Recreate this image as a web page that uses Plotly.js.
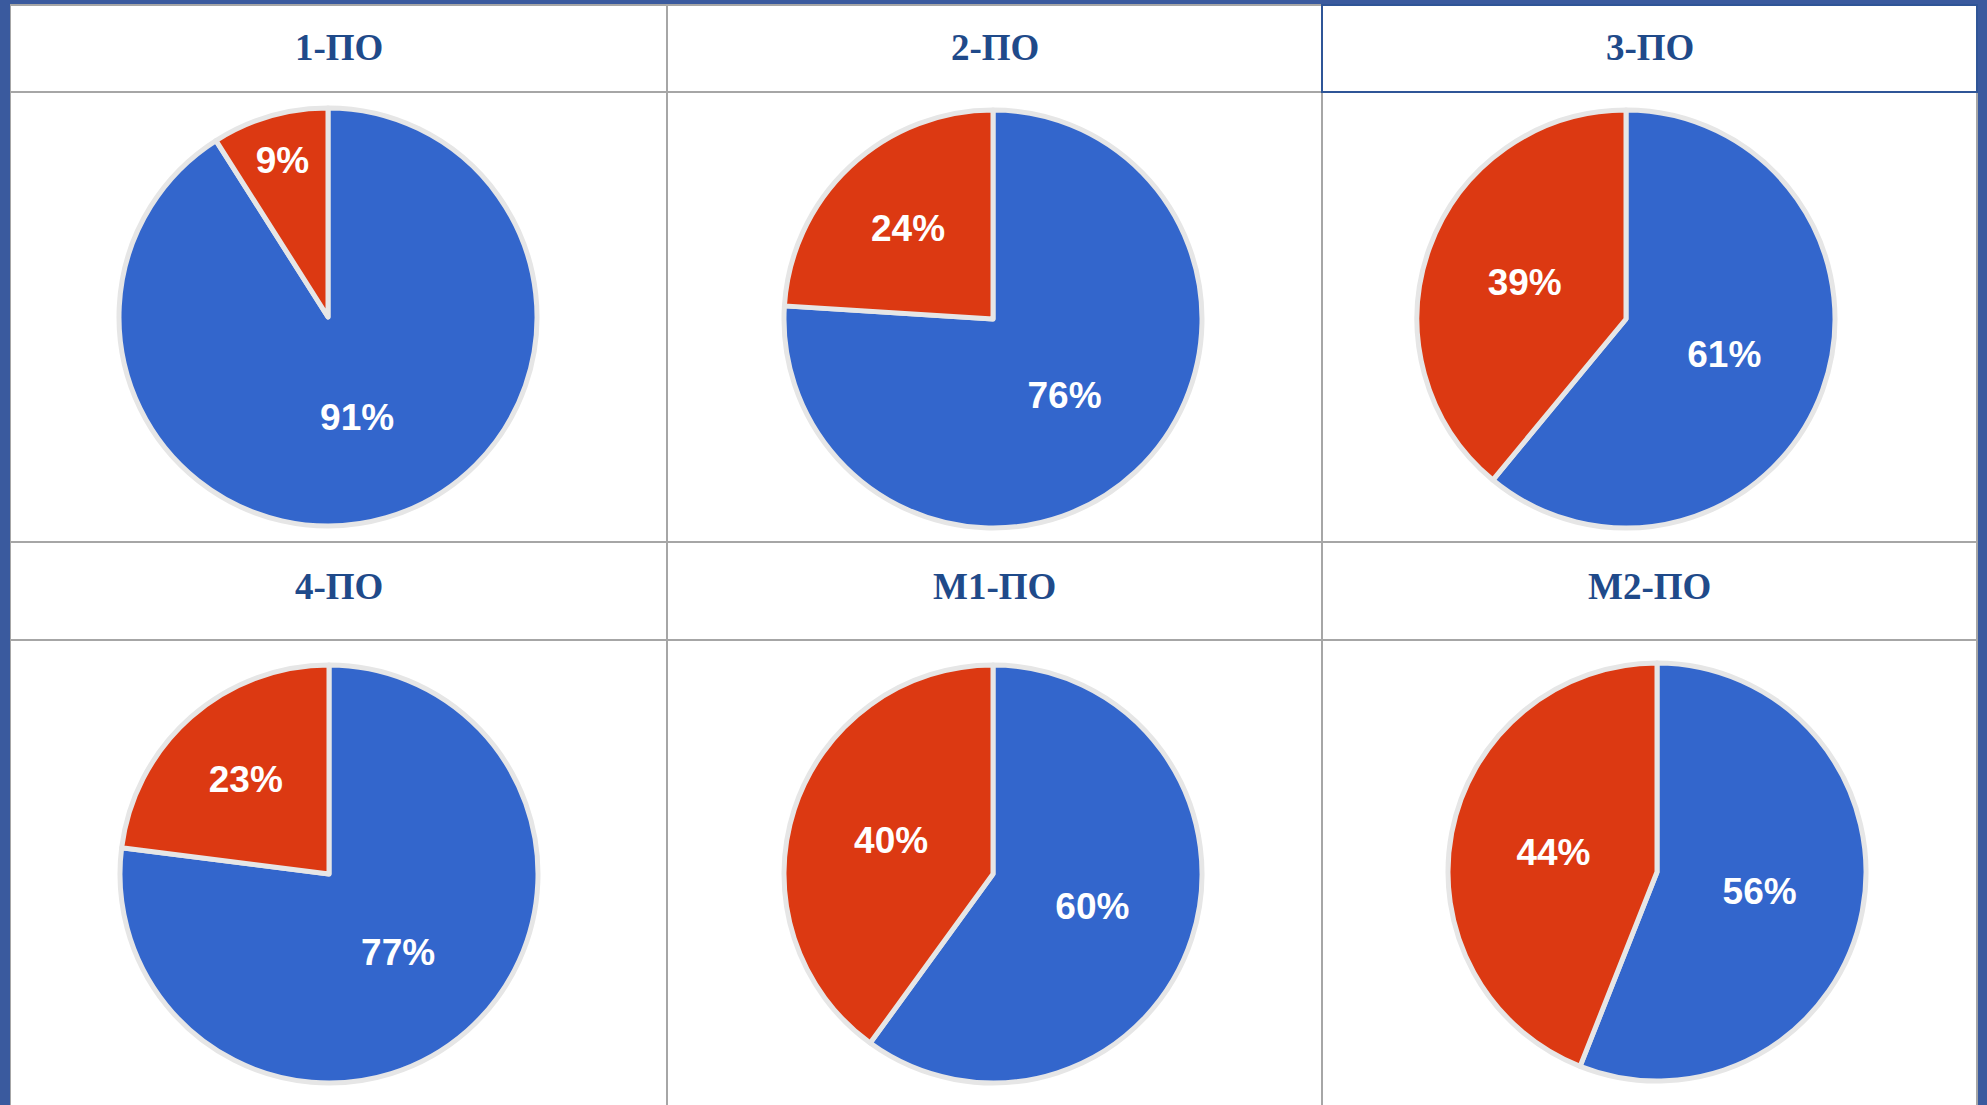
<!DOCTYPE html>
<html>
<head>
<meta charset="utf-8">
<script src="https://cdn.plot.ly/plotly-3.0.1.min.js"></script>
<style>html,body{margin:0;padding:0;background:#fff;}#chart{width:1987px;height:1105px;}</style>
</head>
<body>
<div id="chart"></div>
<script>
// ---- data ----
const groups = ["1-ПО", "2-ПО", "3-ПО", "4-ПО", "М1-ПО", "М2-ПО"];
const sliceLabels = ["Да", "Нет"];
const blueValues = [91, 76, 61, 77, 60, 56];
const redValues = [9, 24, 39, 23, 40, 44];

// ---- layout geometry (pixels) ----
const W = 1987, H = 1105;
const colLines = [10, 667, 1322, 1977];
const rowLines = [5, 92, 542, 640, 1105];
const centers = [[328, 317], [993, 319], [1626, 319], [329, 874], [993, 874], [1657, 872]];
const R = 209;

const px = x => x / W;
const py = y => 1 - y / H;

const traces = groups.map((g, i) => {
  const [cx, cy] = centers[i];
  return {
    type: 'pie',
    name: g,
    labels: sliceLabels,
    values: [blueValues[i], redValues[i]],
    sort: false,
    direction: 'clockwise',
    rotation: 0,
    marker: {colors: ['#3366cc', '#dc3912'], line: {color: '#e6e6e6', width: 5}},
    texttemplate: '%{percent:.0%}',
    textposition: 'inside',
    insidetextorientation: 'horizontal',
    textfont: {family: 'Liberation Sans, Arial, sans-serif', size: 37, color: '#ffffff', weight: 'bold'},
    hoverinfo: 'label+percent',
    domain: {x: [px(cx - R), px(cx + R)], y: [py(cy + R), py(cy - R)]},
    showlegend: false
  };
});

const shapes = [];
const grid = '#a6a6a6';
// vertical lines
colLines.forEach(x => shapes.push({type: 'line', xref: 'paper', yref: 'paper', x0: px(x), x1: px(x), y0: py(rowLines[0]), y1: py(H), line: {color: grid, width: 2}}));
// horizontal lines
rowLines.slice(0, 4).forEach(y => shapes.push({type: 'line', xref: 'paper', yref: 'paper', x0: px(colLines[0]), x1: px(colLines[3]), y0: py(y), y1: py(y), line: {color: grid, width: 2}}));
// selected cell border (3-ПО title)
shapes.push({type: 'rect', xref: 'paper', yref: 'paper', x0: px(1322), x1: px(1977), y0: py(92), y1: py(5), line: {color: '#2f5597', width: 2}});
// outer blue frame
const frame = '#3a5a9e';
shapes.push({type: 'rect', xref: 'paper', yref: 'paper', x0: 0, x1: px(10), y0: 0, y1: 1, fillcolor: frame, line: {width: 0}});
shapes.push({type: 'rect', xref: 'paper', yref: 'paper', x0: 0, x1: 1, y0: py(4), y1: 1, fillcolor: frame, line: {width: 0}});
shapes.push({type: 'rect', xref: 'paper', yref: 'paper', x0: px(1978), x1: 1, y0: 0, y1: 1, fillcolor: frame, line: {width: 0}});

const titleY = [48, 48, 48, 586, 586, 586];
const annotations = groups.map((g, i) => {
  const c = i % 3;
  return {
    xref: 'paper', yref: 'paper',
    x: px((colLines[c] + colLines[c + 1]) / 2), y: py(titleY[i]),
    xanchor: 'center', yanchor: 'middle',
    text: '<b>' + g + '</b>', showarrow: false,
    font: {family: 'Liberation Serif, Times New Roman, serif', size: 37, color: '#1f4a8a'}
  };
});

const layout = {
  width: W, height: H,
  margin: {l: 0, r: 0, t: 0, b: 0},
  paper_bgcolor: '#ffffff',
  shapes: shapes,
  annotations: annotations,
  showlegend: false
};

Plotly.newPlot('chart', traces, layout, {displayModeBar: false, staticPlot: true});
</script>
</body>
</html>
